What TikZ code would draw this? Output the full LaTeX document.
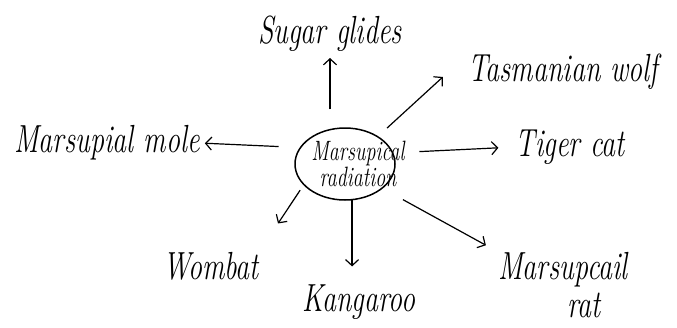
\documentclass[tikz,border=0pt]{standalone}
\usepackage{fontspec}
\usepackage{tikz}
\usetikzlibrary{arrows.meta,shapes.geometric}

\newcommand{\tall}[1]{\scalebox{1}[1.4]{#1}}

\tikzset{
  animal/.style={inner sep=0pt,font=\fontsize{28}{38}\selectfont\itshape},
  hub/.style={draw,line width=1.5pt,ellipse,minimum width=100pt,minimum height=72pt,inner sep=0pt},
  hubtext/.style={inner sep=0pt,align=center,font=\fontsize{20}{26}\selectfont\itshape},
  arr/.style={line width=1.2pt,-{Straight Barb[length=6pt,width=13pt]}}
}

\begin{document}
\begin{tikzpicture}[x=1pt,y=-1pt]
  \useasboundingbox (0,0) rectangle (677,327);
  \node[hub] (c) at (345,164) {};
  \node[hubtext] (ctext) at (358,164) {\tall{Marsupical}\\\tall{radiation}};

  \node[animal] (sugar) at (330,34) {\tall{Sugar glides}};
  \node[animal] (tasman) at (563,72) {\tall{Tasmanian wolf}};
  \node[animal] (tiger) at (570,147) {\tall{Tiger cat}};
  \node[animal] (mole) at (107,143) {\tall{Marsupial mole}};
  \node[animal] (wombat) at (211,266) {\tall{Wombat}};
  \node[animal] (kangaroo) at (359,302) {\tall{Kangaroo}};
  \node[animal,align=center] (rat) at (563,285) {\tall{Marsupcail}\\\hspace*{42pt}\tall{rat}};

  \draw[arr,shorten <=18pt,shorten >=6pt] (sugar.south |- c.north) -- (sugar.south);
  \draw[arr,shorten <=12pt,shorten >=34pt] (c.40) -- (tasman.north west);
  \draw[arr,shorten <=26pt,shorten >=17pt] (c.13) -- (tiger.west);
  \draw[arr,shorten <=21pt,shorten >=5pt] (c.160) -- (mole.east);
  \draw[arr,shorten <=6pt,shorten >=34pt] (c.207) -- (wombat.north east);
  \draw[arr,shorten >=18pt] (c.281) -- (c.281 |- kangaroo.north);
  \draw[arr,shorten <=23pt,shorten >=14pt] (c.327) -- (rat.north west);
\end{tikzpicture}
\end{document}
